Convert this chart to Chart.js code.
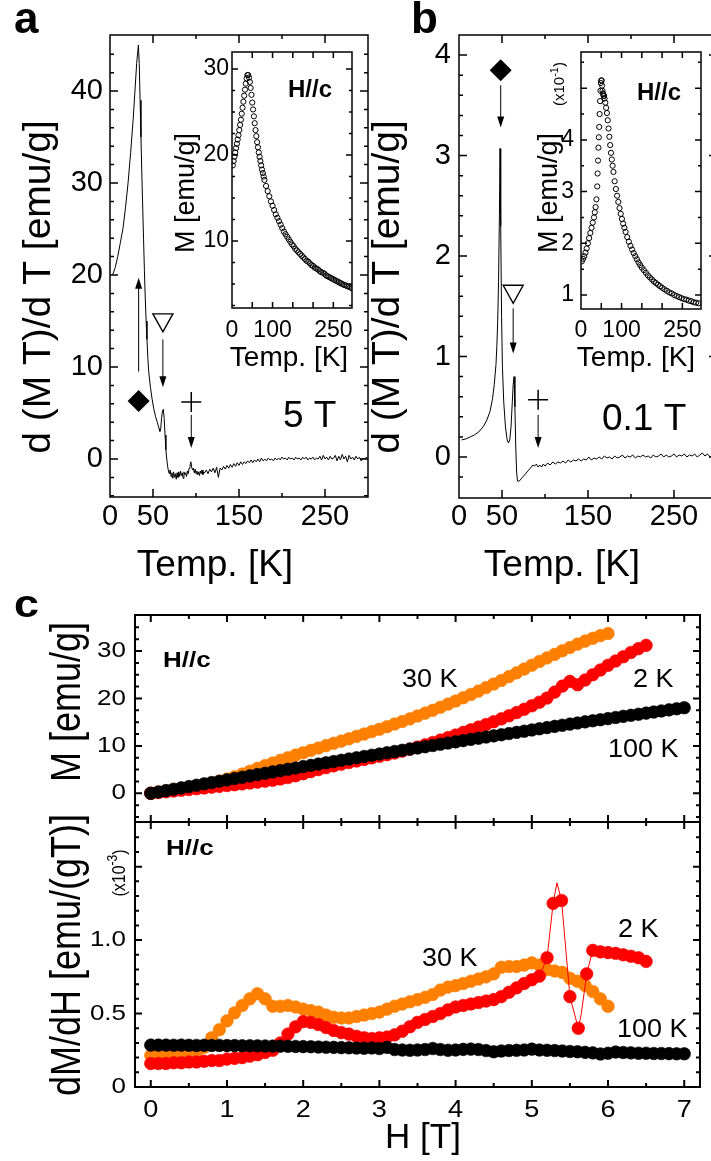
<!DOCTYPE html>
<html>
<head>
<meta charset="utf-8">
<title>Magnetization panels a-c</title>
<script src="https://cdn.jsdelivr.net/npm/chart.js@4.4.1/dist/chart.umd.min.js"></script>
<style>
html, body { margin: 0; padding: 0; width: 711px; height: 1161px; overflow: hidden; background: #fff; }
canvas { position: absolute; left: 0; top: 0; }
</style>
</head>
<body>
<canvas id="mainA" width="760" height="1161"></canvas>
<canvas id="insetA" width="760" height="1161"></canvas>
<canvas id="mainB" width="760" height="1161"></canvas>
<canvas id="insetB" width="760" height="1161"></canvas>
<canvas id="magC" width="760" height="1161"></canvas>
<canvas id="derivC" width="760" height="1161"></canvas>
<script>
// ---- panel a : d(MT)/dT at 5 T ----
var tempA = [
    3, 6, 9, 12, 15, 18, 21, 24, 27, 29,
    31, 33, 34, 35, 36, 37, 38, 39, 40, 41,
    42, 43, 44, 45, 47, 49, 51, 53, 55, 57,
    58, 59, 60, 61, 62, 63, 64, 65, 66, 67,
    68, 69, 70, 71, 72, 73, 74, 75, 76, 77,
    78, 79, 80, 81, 82, 83, 84, 85, 86, 87,
    88, 89, 90, 91, 92, 93, 94, 95, 96, 97,
    98, 99, 100, 101, 102, 103, 104, 105, 106, 107,
    108, 109, 110, 112, 114, 116, 118, 120, 122, 124,
    126, 128, 130, 132, 134, 136, 138, 140, 142, 144,
    146, 148, 150, 152, 154, 156, 158, 160, 162, 164,
    166, 168, 170, 172, 174, 176, 178, 180, 182, 184,
    186, 188, 190, 192, 194, 196, 198, 200, 202, 204,
    206, 208, 210, 212, 214, 216, 218, 220, 222, 224,
    226, 228, 230, 232, 234, 236, 238, 240, 242, 244,
    246, 248, 250, 252, 254, 256, 258, 260, 262, 264,
    266, 268, 270, 272, 274, 276, 278, 280, 282, 284,
    286, 288, 290, 292, 294, 296, 298, 300
];
var dmtA = [
    20, 20.8, 22, 23.5, 25, 27.3, 30, 33.3, 37, 40,
    43, 45, 43, 39, 35, 31, 27.5, 24, 20.5, 17.5,
    15, 13, 11, 9.5, 7.8, 6.5, 5.4, 4.6, 4, 3.3,
    3.0, 3.3, 4.5, 5.2, 5.4, 4.4, 2.6, 1.0, 0, -0.8,
    -1.3, -1.6, -1.2, -1.9, -1.5, -2.1, -1.4, -2.0, -1.6, -2.2,
    -1.5, -2.0, -1.4, -1.9, -1.3, -1.8, -1.5, -2.1, -1.4, -1.7,
    -1.5, -1.9, -1.3, -1.6, -1.0, -0.8, -0.3, -0.9, -1.2, -1.0,
    -1.5, -1.1, -1.6, -1.3, -1.7, -1.4, -1.8, -1.3, -1.6, -1.2,
    -1.7, -1.4, -1.5, -1.2, -1.6, -1.1, -1.4, -1.0, -1.5, -0.9,
    -2.0, -1.0, -1.2, -0.8, -1.1, -0.7, -1.0, -0.6, -0.9, -0.5,
    -0.8, -0.4, -0.7, -0.3, -0.6, -0.3, -0.5, -0.2, -0.4, -0.1,
    -0.4, -0.1, -0.3, 0.0, -0.3, 0.1, -0.2, 0.0, -0.2, 0.1,
    -0.1, 0.0, -0.2, 0.1, -0.1, 0.1, -0.1, 0.2, 0.0, 0.1,
    -0.1, 0.2, 0.0, 0.1, -0.1, 0.2, 0.0, 0.1, -0.1, 0.2,
    0.0, 0.2, -0.1, 0.1, 0.0, 0.2, -0.1, 0.1, 0.0, 0.3,
    -0.1, 0.4, 0.0, 0.2, -0.1, 0.3, 0.0, 0.1, 0.4, -0.2,
    0.3, -0.1, 0.5, 0.0, 0.3, -0.3, 0.4, 0.0, 0.2, -0.1,
    0.3, 0.0, 0.2, -0.2, 0.1, 0.0, 0.2, -0.1
];

// inset a : M(T) at 5 T
var tempInsetA = [
    2, 4, 6, 8, 10, 12, 14, 16, 18, 20,
    22, 24, 26, 28, 30, 32, 34, 36, 38, 40,
    42, 44, 46, 48, 50, 52, 54, 56, 58, 60,
    62, 64, 66, 68, 70, 72, 74, 76, 78, 80,
    84, 88, 92, 96, 100, 104, 108, 112, 116, 120,
    124, 128, 132, 136, 140, 144, 148, 152, 156, 160,
    164, 168, 172, 176, 180, 184, 188, 192, 196, 200,
    204, 208, 212, 216, 220, 224, 228, 232, 236, 240,
    244, 248, 252, 256, 260, 264, 268, 272, 276, 280,
    284, 288, 292, 296
];
var magInsetA = [
    18.8, 19.3, 19.8, 20.3, 20.8, 21.3, 21.8, 22.3, 22.9, 23.5,
    24.1, 24.8, 25.5, 26.2, 26.9, 27.6, 28.3, 28.9, 29.3, 29.3,
    29.0, 28.5, 27.8, 27.0, 26.1, 25.3, 24.5, 23.7, 22.9, 22.2,
    21.5, 20.9, 20.3, 19.8, 19.3, 18.8, 18.3, 17.9, 17.5, 17.1,
    16.4, 15.8, 15.2, 14.6, 14.1, 13.6, 13.1, 12.7, 12.3, 11.9,
    11.5, 11.1, 10.8, 10.5, 10.2, 9.9, 9.6, 9.4, 9.1, 8.9,
    8.7, 8.5, 8.3, 8.1, 7.9, 7.7, 7.6, 7.4, 7.2, 7.1,
    6.9, 6.8, 6.7, 6.5, 6.4, 6.3, 6.2, 6.0, 5.9, 5.8,
    5.7, 5.6, 5.5, 5.4, 5.3, 5.2, 5.1, 5.0, 4.9, 4.85,
    4.75, 4.7, 4.6, 4.5
];

// ---- panel b : d(MT)/dT at 0.1 T ----
var tempB = [
    3, 8, 13, 18, 23, 28, 32, 36, 39, 41,
    43, 44, 45, 46, 47, 47.7, 48.5, 49.5, 50.5, 52,
    54, 56, 57.5, 59, 60.5, 62, 63, 64, 65, 66,
    67, 68, 70, 72, 74, 76, 78, 80, 82, 84,
    86, 88, 90, 92, 94, 96, 98, 100, 103, 106,
    109, 112, 115, 118, 121, 124, 127, 130, 133, 136,
    139, 142, 145, 148, 151, 154, 157, 160, 163, 166,
    169, 172, 175, 178, 181, 184, 187, 190, 193, 196,
    199, 202, 205, 208, 211, 214, 217, 220, 223, 226,
    229, 232, 235, 238, 241, 244, 247, 250, 253, 256,
    259, 262, 265, 268, 271, 274, 277, 280, 283, 286,
    289, 292, 295, 298
];
var dmtB = [
    0.17, 0.18, 0.2, 0.22, 0.25, 0.3, 0.36, 0.45, 0.58, 0.72,
    0.92, 1.1, 1.35, 1.75, 2.4, 3.07, 2.3, 1.4, 0.9, 0.55,
    0.3, 0.17, 0.14, 0.17, 0.3, 0.55, 0.72, 0.8, 0.5, 0.1,
    -0.15, -0.24, -0.24, -0.22, -0.2, -0.18, -0.16, -0.14, -0.12, -0.1,
    -0.08, -0.09, -0.07, -0.1, -0.08, -0.1, -0.07, -0.09, -0.06, -0.08,
    -0.05, -0.07, -0.05, -0.06, -0.04, -0.06, -0.03, -0.05, -0.03, -0.04,
    -0.02, -0.04, -0.02, -0.03, 0.0, -0.03, -0.01, -0.02, 0.0, -0.02,
    0.01, -0.01, 0.0, -0.02, 0.01, -0.01, 0.0, 0.02, -0.01, 0.01,
    0.0, 0.02, -0.01, 0.01, 0.0, 0.02, 0.0, 0.01, -0.01, 0.02,
    0.0, 0.01, 0.03, 0.0, 0.02, 0.0, 0.01, 0.03, 0.0, 0.02,
    0.01, 0.03, 0.0, 0.02, 0.01, 0.03, 0.0, 0.02, 0.04, 0.01,
    0.03, 0.0, 0.02, 0.03
];

// inset b : M(T) at 0.1 T, in units of 1e-1 emu/g
var tempInsetB = [
    2, 5, 8, 11, 14, 17, 20, 23, 26, 29,
    32, 34, 36, 38, 40, 41, 42, 43, 44, 45,
    46, 47, 48, 49, 50, 51, 52, 53, 54, 55,
    56, 57, 58, 60, 62, 64, 66, 68, 70, 72,
    74, 76, 78, 80, 83, 86, 89, 92, 95, 98,
    101, 104, 107, 110, 114, 118, 122, 126, 130, 134,
    138, 142, 146, 150, 155, 160, 165, 170, 175, 180,
    185, 190, 195, 200, 206, 212, 218, 224, 230, 236,
    242, 248, 254, 260, 266, 272, 278, 284, 290
];
var magInsetB = [
    1.65, 1.7, 1.75, 1.82, 1.9, 2.0, 2.1, 2.2, 2.3, 2.4,
    2.5, 2.6, 2.7, 2.85, 3.1, 3.35, 3.6, 3.85, 4.05, 4.25,
    4.5, 4.75, 4.95, 5.1, 5.15, 5.15, 5.05, 4.95, 4.9, 4.88,
    4.85, 4.85, 4.8, 4.72, 4.62, 4.52, 4.38, 4.22, 4.06, 3.9,
    3.75, 3.62, 3.5, 3.38, 3.2, 3.05, 2.92, 2.8, 2.68, 2.57,
    2.47, 2.38, 2.3, 2.22, 2.12, 2.03, 1.95, 1.88, 1.81, 1.75,
    1.69, 1.63, 1.58, 1.53, 1.48, 1.43, 1.38, 1.34, 1.3, 1.26,
    1.23, 1.2, 1.17, 1.14, 1.11, 1.08, 1.05, 1.03, 1.0, 0.98,
    0.96, 0.94, 0.92, 0.91, 0.89, 0.88, 0.86, 0.85, 0.84
];

// ---- panel c : M(H) and dM/dH at 2 K, 30 K, 100 K ----
var fieldH = [
    0, 0.1, 0.2, 0.3, 0.4, 0.5, 0.6, 0.7, 0.8, 0.9,
    1.0, 1.1, 1.2, 1.3, 1.4, 1.5, 1.6, 1.7, 1.8, 1.9,
    2.0, 2.1, 2.2, 2.3, 2.4, 2.5, 2.6, 2.7, 2.8, 2.9,
    3.0, 3.1, 3.2, 3.3, 3.4, 3.5, 3.6, 3.7, 3.8, 3.9,
    4.0, 4.1, 4.2, 4.3, 4.4, 4.5, 4.6, 4.7, 4.8, 4.9,
    5.0, 5.1, 5.2, 5.3, 5.4, 5.5, 5.6, 5.7, 5.8, 5.9,
    6.0, 6.1, 6.2, 6.3, 6.4, 6.5, 6.6, 6.7, 6.8, 6.9,
    7.0
];
var mag100K = [
    0, 0.29, 0.57, 0.86, 1.14, 1.42, 1.7, 1.99, 2.27, 2.55,
    2.83, 3.11, 3.39, 3.67, 3.95, 4.23, 4.51, 4.79, 5.07, 5.34,
    5.62, 5.89, 6.16, 6.43, 6.7, 6.97, 7.24, 7.5, 7.77, 8.03,
    8.29, 8.56, 8.82, 9.07, 9.32, 9.57, 9.83, 10.09, 10.35, 10.6,
    10.85, 11.11, 11.37, 11.62, 11.87, 12.11, 12.35, 12.6, 12.85, 13.1,
    13.36, 13.61, 13.86, 14.11, 14.35, 14.59, 14.83, 15.07, 15.3, 15.52,
    15.75, 15.99, 16.22, 16.45, 16.68, 16.91, 17.14, 17.37, 17.6, 17.82,
    18.05
];
var mag30K = [
    0, 0.25, 0.5, 0.75, 1.0, 1.25, 1.5, 1.8, 2.15, 2.55,
    3.0, 3.5, 4.05, 4.65, 5.25, 5.85, 6.4, 6.95, 7.5, 8.05,
    8.55, 9.05, 9.55, 10.05, 10.55, 11.0, 11.5, 12.0, 12.5, 13.0,
    13.5, 14.05, 14.6, 15.15, 15.7, 16.3, 16.9, 17.5, 18.15, 18.8,
    19.45, 20.15, 20.85, 21.55, 22.3, 23.05, 23.8, 24.6, 25.4, 26.2,
    27.0, 27.8, 28.55, 29.3, 30.05, 30.75, 31.45, 32.1, 32.7, 33.25,
    33.7
];
var mag2K = [
    0, 0.16, 0.32, 0.48, 0.64, 0.8, 0.96, 1.13, 1.3, 1.47,
    1.64, 1.81, 1.99, 2.17, 2.36, 2.56, 2.77, 3.02, 3.32, 3.7,
    4.14, 4.58, 5.0, 5.41, 5.79, 6.15, 6.49, 6.82, 7.14, 7.47,
    7.8, 8.14, 8.5, 8.89, 9.31, 9.75, 10.22, 10.71, 11.22, 11.75,
    12.29, 12.84, 13.39, 13.95, 14.52, 15.1, 15.7, 16.34, 17.02, 17.72,
    18.45, 19.21, 20.09, 21.34, 22.6, 23.6, 22.9, 23.9, 25.0, 26.0,
    27.0, 27.9, 28.8, 29.7, 30.5, 31.2
];
var deriv100K = [
    0.285, 0.285, 0.285, 0.284, 0.285, 0.284, 0.283, 0.284, 0.283, 0.283,
    0.282, 0.282, 0.281, 0.281, 0.28, 0.279, 0.278, 0.278, 0.277, 0.276,
    0.275, 0.274, 0.272, 0.271, 0.27, 0.268, 0.267, 0.265, 0.264, 0.266,
    0.262, 0.27, 0.255, 0.252, 0.25, 0.252, 0.255, 0.262, 0.255, 0.25,
    0.252, 0.256, 0.258, 0.255, 0.248, 0.24, 0.245, 0.248, 0.25, 0.252,
    0.258, 0.252, 0.25, 0.248, 0.245, 0.242, 0.24, 0.236, 0.232, 0.225,
    0.23, 0.238, 0.235, 0.232, 0.23, 0.23, 0.228, 0.228, 0.227, 0.226,
    0.226
];
var deriv30K = [
    0.215, 0.215, 0.215, 0.22, 0.22, 0.225, 0.235, 0.27, 0.335, 0.39,
    0.45, 0.505, 0.555, 0.6, 0.635, 0.6, 0.55, 0.55, 0.555, 0.545,
    0.53, 0.52, 0.51, 0.49, 0.475, 0.47, 0.47, 0.48, 0.49, 0.5,
    0.51, 0.53, 0.55, 0.565, 0.58, 0.595, 0.61, 0.63, 0.66, 0.68,
    0.69, 0.705, 0.72, 0.735, 0.75, 0.77, 0.815, 0.82, 0.82, 0.83,
    0.845, 0.83, 0.8, 0.79, 0.78, 0.74, 0.72, 0.69, 0.65, 0.6,
    0.55
];
var field2K = [
    0, 0.1, 0.2, 0.3, 0.4, 0.5, 0.6, 0.7, 0.8, 0.9,
    1.0, 1.1, 1.2, 1.3, 1.4, 1.5, 1.6, 1.7, 1.8, 1.9,
    2.0, 2.1, 2.2, 2.3, 2.4, 2.5, 2.6, 2.7, 2.8, 2.9,
    3.0, 3.1, 3.2, 3.3, 3.4, 3.5, 3.6, 3.7, 3.8, 3.9,
    4.0, 4.1, 4.2, 4.3, 4.4, 4.5, 4.6, 4.7, 4.8, 4.9,
    5.0, 5.1, 5.2, 5.28, 5.33, 5.39, 5.5, 5.61, 5.65, 5.72,
    5.8, 5.9, 6.0, 6.1, 6.2, 6.3, 6.4, 6.5
];
var deriv2K = [
    0.16, 0.16, 0.16, 0.165, 0.165, 0.17, 0.17, 0.175, 0.18, 0.18,
    0.19, 0.195, 0.2, 0.21, 0.22, 0.235, 0.25, 0.3, 0.36, 0.41,
    0.445, 0.44, 0.425, 0.405, 0.385, 0.37, 0.36, 0.345, 0.335, 0.33,
    0.335, 0.34, 0.355, 0.38, 0.41, 0.44, 0.46, 0.48, 0.5, 0.525,
    0.545, 0.555, 0.565, 0.575, 0.585, 0.595, 0.615, 0.645, 0.675, 0.705,
    0.73, 0.755, 0.88, 1.25, 1.39, 1.27, 0.615, 0.4, 0.5, 0.77,
    0.93, 0.92, 0.915, 0.91, 0.9, 0.89, 0.88, 0.855
];
// line vertices of the 2 K derivative that carry no symbol
var lineOnly2K = [5.33, 5.65];

// tick labels
var tempTickLabels = [0, 50, 150, 250];
var insetTempLabels = [0, 100, 250];
var dmtLabelsA = [0, 10, 20, 30, 40];
var dmtLabelsB = [0, 1, 2, 3, 4];
var magLabelsInsetA = [10, 20, 30];
var magLabelsInsetB = [1, 2, 3, 4];
var fieldLabels = [0, 1, 2, 3, 4, 5, 6, 7];
var magLabelsC = [0, 10, 20, 30];
var derivLabelsC = ['0', '0.5', '1.0'];

var FONT = '"Liberation Sans", Arial, Helvetica, sans-serif';
var CW = 760, CH = 1161;
var SX = 1.18; // panel c lettering is wider than tall

function pts(xs, ys) {
    return ys.map(function (y, i) { return { x: xs[i], y: y }; });
}

function ticksFrom(lo, hi, step) {
    var out = [];
    for (var v = Math.ceil(lo / step - 1e-9) * step; v <= hi + 1e-9; v += step) {
        out.push(Math.round(v * 1e6) / 1e6);
    }
    return out;
}

function txt(c, s, x, y, o) {
    c.save();
    c.font = (o.weight || 'normal') + ' ' + o.size + 'px ' + FONT;
    c.fillStyle = '#000';
    c.textAlign = o.align || 'left';
    c.textBaseline = o.base || 'alphabetic';
    c.translate(x, y);
    if (o.rot) {
        c.rotate(-Math.PI / 2);
        c.scale(1, o.sx || 1);
    } else {
        c.scale(o.sx || 1, 1);
    }
    c.fillText(s, 0, 0);
    c.restore();
}

// "(x10^exp)" written upwards
function multiplier(c, exp, x, y, size, sx) {
    c.save();
    c.translate(x, y);
    c.rotate(-Math.PI / 2);
    c.scale(1, sx || 1);
    c.fillStyle = '#000';
    var f1 = size + 'px ' + FONT, f2 = Math.round(size * 0.72) + 'px ' + FONT;
    c.font = f1;
    var w1 = c.measureText('(x10').width, w3 = c.measureText(')').width;
    c.font = f2;
    var w2 = c.measureText(exp).width;
    var x0 = -(w1 + w2 + w3) / 2;
    c.font = f1; c.fillText('(x10', x0, 0);
    c.font = f2; c.fillText(exp, x0 + w1, -size * 0.42);
    c.font = f1; c.fillText(')', x0 + w1 + w2, 0);
    c.restore();
}

function drawFrame(c, xs, ys, a, f) {
    c.save();
    c.strokeStyle = '#000';
    c.lineWidth = f.lw;
    c.beginPath();
    function xt(list, len) {
        list.forEach(function (v) {
            var p = xs.getPixelForValue(v);
            if (p <= a.left + 1 || p >= a.right - 1) return;
            c.moveTo(p, a.bottom); c.lineTo(p, a.bottom - len);
            c.moveTo(p, a.top); c.lineTo(p, a.top + len);
        });
    }
    function yt(list, len) {
        list.forEach(function (v) {
            var p = ys.getPixelForValue(v);
            if (p <= a.top + 1 || p >= a.bottom - 1) return;
            c.moveTo(a.left, p); c.lineTo(a.left + len, p);
            c.moveTo(a.right, p); c.lineTo(a.right - len, p);
        });
    }
    xt(f.xMinor, f.minor); xt(f.xMajor, f.major);
    yt(f.yMinor, f.minor); yt(f.yMajor, f.major);
    c.stroke();
    c.strokeRect(a.left, a.top, a.right - a.left, a.bottom - a.top);
    c.restore();
}

function arrow(c, x, y1, y2) {
    var d = y2 > y1 ? 1 : -1;
    c.save();
    c.strokeStyle = '#000'; c.fillStyle = '#000'; c.lineWidth = 1;
    c.beginPath(); c.moveTo(x, y1); c.lineTo(x, y2 - d * 8); c.stroke();
    c.beginPath(); c.moveTo(x, y2); c.lineTo(x - 3.5, y2 - d * 11); c.lineTo(x + 3.5, y2 - d * 11); c.closePath(); c.fill();
    c.restore();
}
function diamond(c, x, y, r) {
    c.save(); c.fillStyle = '#000';
    c.beginPath(); c.moveTo(x, y - r); c.lineTo(x + r, y); c.lineTo(x, y + r); c.lineTo(x - r, y); c.closePath(); c.fill();
    c.restore();
}
function triangleDown(c, x, y, w, h) {
    c.save(); c.strokeStyle = '#000'; c.lineWidth = 1.4;
    c.beginPath(); c.moveTo(x - w / 2, y - h / 2); c.lineTo(x + w / 2, y - h / 2); c.lineTo(x, y + h / 2); c.closePath(); c.stroke();
    c.restore();
}
function plus(c, x, y, r) {
    c.save(); c.strokeStyle = '#000'; c.lineWidth = 1.5;
    c.beginPath(); c.moveTo(x - r, y); c.lineTo(x + r, y); c.moveTo(x, y - r); c.lineTo(x, y + r); c.stroke();
    c.restore();
}

function makePanel(id, frame, xr, yr, datasets, deco) {
    return new Chart(document.getElementById(id), {
        type: 'line',
        data: { datasets: datasets },
        options: {
            responsive: false,
            animation: false,
            events: [],
            layout: { padding: { left: frame[0], top: frame[1], right: CW - frame[2], bottom: CH - frame[3] } },
            plugins: { legend: { display: false }, tooltip: { enabled: false } },
            scales: {
                x: { type: 'linear', display: false, min: xr[0], max: xr[1] },
                y: { type: 'linear', display: false, min: yr[0], max: yr[1] }
            }
        },
        plugins: [{
            id: 'deco_' + id,
            afterDraw: function (chart) {
                deco(chart.ctx, chart.scales.x, chart.scales.y, chart.chartArea);
            }
        }]
    });
}

function curve(xs, ys) {
    return { data: pts(xs, ys), borderColor: '#000', borderWidth: 1, pointRadius: 0, fill: false, tension: 0 };
}
function openDots(xs, ys) {
    return {
        data: pts(xs, ys), showLine: false, pointRadius: 2.6, pointBorderWidth: 1,
        pointBorderColor: '#000', pointBackgroundColor: 'rgba(255,255,255,0)'
    };
}
function bigDots(xs, ys, color, line) {
    return {
        data: pts(xs, ys), showLine: !!line, borderColor: color, borderWidth: 1,
        pointRadius: 6.3, pointBorderWidth: 0.6, pointBorderColor: color, pointBackgroundColor: color
    };
}

// ---------- panel a ----------
makePanel('mainA', [110, 35, 368, 497], [0, 300], [-4.13, 46.09], [curve(tempA, dmtA)], function (c, xs, ys, a) {
    drawFrame(c, xs, ys, a, {
        lw: 1.5, major: 8, minor: 4,
        xMajor: [50, 150, 250], xMinor: [100, 200],
        yMajor: ticksFrom(ys.min, ys.max, 10), yMinor: ticksFrom(ys.min, ys.max, 2)
    });
    tempTickLabels.forEach(function (v) { txt(c, String(v), xs.getPixelForValue(v), 525, { size: 29, align: 'center' }); });
    dmtLabelsA.forEach(function (v) { txt(c, String(v), 103, ys.getPixelForValue(v), { size: 29, align: 'right', base: 'middle' }); });
    txt(c, 'Temp. [K]', 215, 576, { size: 37, align: 'center' });
    txt(c, 'd (M T)/d T [emu/g]', 50, 287, { size: 39, align: 'center', rot: true });
    txt(c, 'a', 14, 33, { size: 44, weight: 'bold' });
    txt(c, '5 T', 283, 427, { size: 37 });
    var X = function (v) { return xs.getPixelForValue(v); }, Y = function (v) { return ys.getPixelForValue(v); };
    arrow(c, X(33.3), Y(9.5), Y(19.7));
    diamond(c, X(33.3), Y(6.3), 11);
    triangleDown(c, X(61.5), Y(14.8), 20, 18);
    arrow(c, X(61.5), Y(13.0), Y(7.8));
    plus(c, X(94.5), Y(6.2), 10);
    arrow(c, X(94.5), Y(4.8), Y(1.2));
});

makePanel('insetA', [232, 52, 352, 308], [0, 296], [2.21, 31.98], [openDots(tempInsetA, magInsetA)], function (c, xs, ys, a) {
    drawFrame(c, xs, ys, a, {
        lw: 1.5, major: 6, minor: 3,
        xMajor: ticksFrom(0, 296, 50), xMinor: [],
        yMajor: ticksFrom(ys.min, ys.max, 10), yMinor: ticksFrom(ys.min, ys.max, 2.5)
    });
    insetTempLabels.forEach(function (v) { txt(c, String(v), xs.getPixelForValue(v), 337, { size: 23, align: 'center' }); });
    magLabelsInsetA.forEach(function (v) { txt(c, String(v), 229, ys.getPixelForValue(v), { size: 23, align: 'right', base: 'middle' }); });
    txt(c, 'Temp. [K]', 289, 366, { size: 28, align: 'center' });
    txt(c, 'M [emu/g]', 194, 193, { size: 27, align: 'center', rot: true });
    txt(c, 'H//c', 288, 97, { size: 24, weight: 'bold' });
});

// ---------- panel b ----------
makePanel('mainB', [459, 35, 717, 498], [0, 300], [-0.408, 4.2], [curve(tempB, dmtB)], function (c, xs, ys, a) {
    drawFrame(c, xs, ys, a, {
        lw: 1.5, major: 8, minor: 4,
        xMajor: [50, 150, 250], xMinor: [100, 200],
        yMajor: ticksFrom(ys.min, ys.max, 1), yMinor: ticksFrom(ys.min, ys.max, 0.2)
    });
    tempTickLabels.forEach(function (v) { txt(c, String(v), xs.getPixelForValue(v), 525, { size: 29, align: 'center' }); });
    dmtLabelsB.forEach(function (v) { txt(c, String(v), 451, ys.getPixelForValue(v), { size: 29, align: 'right', base: 'middle' }); });
    txt(c, 'Temp. [K]', 562, 576, { size: 37, align: 'center' });
    txt(c, 'd (M T)/d T [emu/g]', 399, 287, { size: 39, align: 'center', rot: true });
    txt(c, 'b', 411, 33, { size: 44, weight: 'bold' });
    txt(c, '0.1 T', 602, 430, { size: 37 });
    var X = function (v) { return xs.getPixelForValue(v); }, Y = function (v) { return ys.getPixelForValue(v); };
    diamond(c, X(48.5), Y(3.85), 11);
    arrow(c, X(48.5), Y(3.7), Y(3.28));
    triangleDown(c, X(63), Y(1.62), 20, 18);
    arrow(c, X(63), Y(1.48), Y(1.03));
    plus(c, X(92), Y(0.57), 10);
    arrow(c, X(92), Y(0.42), Y(0.09));
});

makePanel('insetB', [581, 52, 701, 309], [0, 296], [0.729, 5.7], [openDots(tempInsetB, magInsetB)], function (c, xs, ys, a) {
    drawFrame(c, xs, ys, a, {
        lw: 1.5, major: 6, minor: 3,
        xMajor: ticksFrom(0, 296, 50), xMinor: [],
        yMajor: ticksFrom(ys.min, ys.max, 1), yMinor: ticksFrom(ys.min, ys.max, 0.5)
    });
    insetTempLabels.forEach(function (v) { txt(c, String(v), xs.getPixelForValue(v), 337, { size: 23, align: 'center' }); });
    magLabelsInsetB.forEach(function (v) { txt(c, String(v), 574, ys.getPixelForValue(v), { size: 23, align: 'right', base: 'middle' }); });
    txt(c, 'Temp. [K]', 636, 366, { size: 28, align: 'center' });
    txt(c, 'M [emu/g]', 557, 193, { size: 27, align: 'center', rot: true });
    multiplier(c, '-1', 564, 84, 15);
    txt(c, 'H//c', 637, 100, { size: 24, weight: 'bold' });
});

// ---------- panel c ----------
var ORANGE = '#ff8000', RED = '#ff0000', BLACK = '#000000';

makePanel('magC', [135, 615, 700, 822], [-0.207, 7.207], [-6.05, 37.6], [
    bigDots(fieldH, mag100K, BLACK),
    bigDots(fieldH, mag2K, RED),
    bigDots(fieldH, mag30K, ORANGE)
], function (c, xs, ys, a) {
    drawFrame(c, xs, ys, a, {
        lw: 2, major: 7, minor: 4,
        xMajor: ticksFrom(0, 7, 1), xMinor: ticksFrom(0, 7.2, 0.5),
        yMajor: ticksFrom(ys.min, ys.max, 10), yMinor: ticksFrom(ys.min, ys.max, 2.5)
    });
    magLabelsC.forEach(function (v) { txt(c, String(v), 126, ys.getPixelForValue(v), { size: 22, align: 'right', base: 'middle', sx: SX }); });
    txt(c, 'M [emu/g]', 80, 702, { size: 36, align: 'center', rot: true, sx: SX });
    txt(c, 'c', 14, 617, { size: 38, weight: 'bold', sx: SX });
    txt(c, 'H//c', 163, 667, { size: 22, weight: 'bold', sx: SX });
    txt(c, '30 K', 402, 687, { size: 25, sx: 1.08 });
    txt(c, '2 K', 633, 687, { size: 25, sx: 1.08 });
    txt(c, '100 K', 608, 757, { size: 25, sx: 1.08 });
});

var low2K = bigDots(field2K, deriv2K, RED, true);
low2K.pointRadius = function (ctx) {
    var r = ctx.raw;
    return r && lineOnly2K.indexOf(r.x) >= 0 ? 0 : 6.3;
};

makePanel('derivC', [135, 822, 700, 1087], [-0.207, 7.207], [0, 1.804], [
    bigDots(fieldH, deriv100K, BLACK),
    low2K,
    bigDots(fieldH, deriv30K, ORANGE)
], function (c, xs, ys, a) {
    drawFrame(c, xs, ys, a, {
        lw: 2, major: 7, minor: 4,
        xMajor: ticksFrom(0, 7, 1), xMinor: ticksFrom(0, 7.2, 0.5),
        yMajor: ticksFrom(0, 1.8, 0.5), yMinor: ticksFrom(0, 1.8, 0.1)
    });
    fieldLabels.forEach(function (v) { txt(c, String(v), xs.getPixelForValue(v), 1117, { size: 23, align: 'center', sx: SX }); });
    derivLabelsC.forEach(function (s) { txt(c, s, 126, ys.getPixelForValue(parseFloat(s)), { size: 22, align: 'right', base: 'middle', sx: SX }); });
    txt(c, 'dM/dH [emu/(gT)]', 80, 955, { size: 36, align: 'center', rot: true, sx: SX });
    multiplier(c, '-3', 125, 873, 16, SX);
    txt(c, 'H [T]', 423, 1148, { size: 35, align: 'center' });
    txt(c, 'H//c', 166, 855, { size: 22, weight: 'bold', sx: SX });
    txt(c, '30 K', 422, 966, { size: 25, sx: 1.08 });
    txt(c, '2 K', 618, 937, { size: 25, sx: 1.08 });
    txt(c, '100 K', 617, 1037, { size: 25, sx: 1.08 });
});
</script>
</body>
</html>
